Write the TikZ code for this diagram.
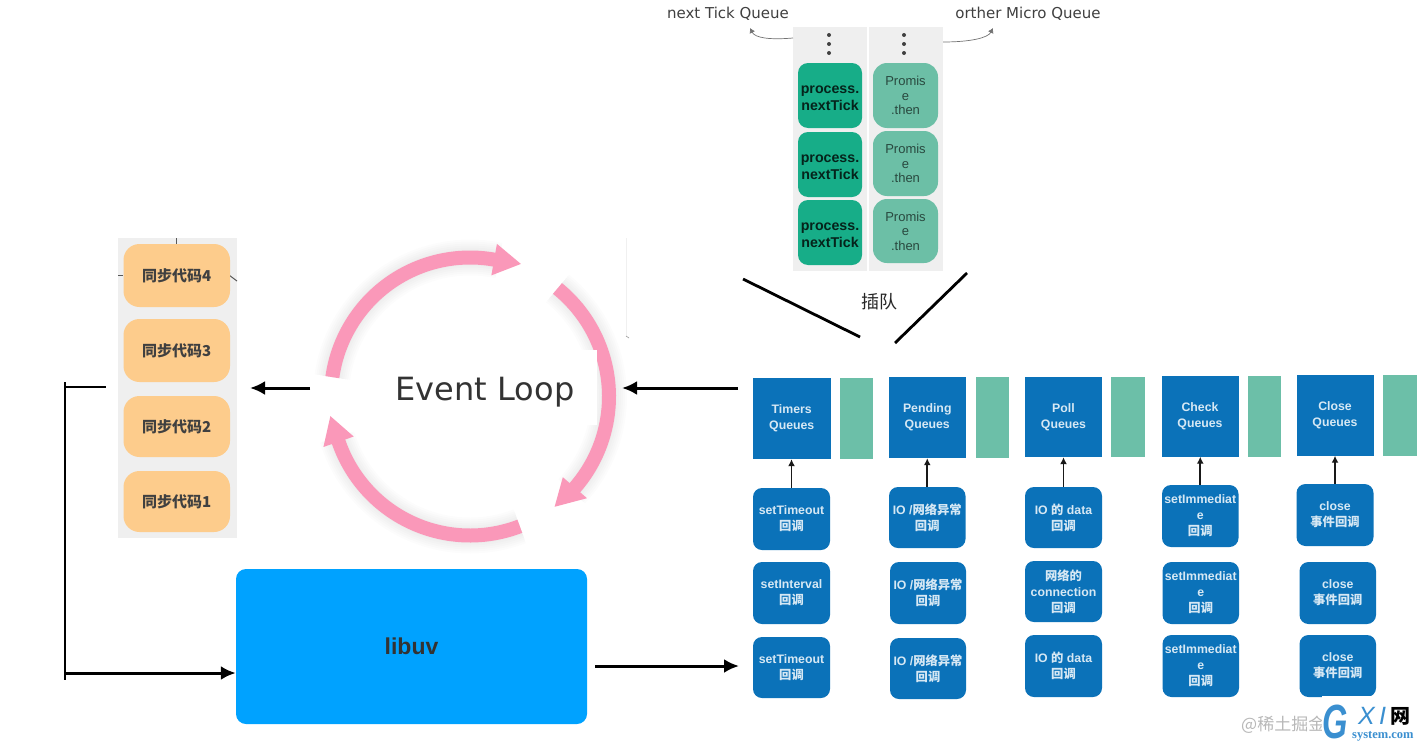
\documentclass[tikz,border=0pt]{standalone}
\usepackage{fontspec}
\setmainfont{Liberation Sans}
\newfontfamily\cjk{Noto Sans CJK SC}
\newfontfamily\lbl{DejaVu Sans}
\newfontfamily\srf{Liberation Serif}
\usetikzlibrary{arrows.meta}
\definecolor{qblue}{HTML}{0B72B9}
\definecolor{qgreen}{HTML}{6CBFA8}
\definecolor{tgreen}{HTML}{17AD88}
\definecolor{pgreen}{HTML}{6CBFA6}
\definecolor{syncor}{HTML}{FDCC8C}
\definecolor{panel}{HTML}{EFEFEF}
\definecolor{uvblue}{HTML}{00A2FF}
\definecolor{ringpink}{HTML}{FA98B9}
\definecolor{cbtext}{HTML}{D6E8F4}
\definecolor{logoblue}{HTML}{3A8FD0}
\tikzset{
  queuebox/.style={fill=qblue,inner sep=0pt,text=cbtext,align=center,font=\bfseries\fontsize{12.3}{16}\selectfont},
  sidebox/.style={fill=qgreen,inner sep=0pt},
  cbbox/.style={fill=qblue,rounded corners=9pt,inner sep=0pt,text=cbtext,align=center,font=\bfseries\fontsize{12.3}{16}\selectfont},
  tickbox/.style={fill=tgreen,rounded corners=10pt,inner sep=0pt,text=black!80!tgreen,align=center,font=\bfseries\fontsize{14.2}{17}\selectfont},
  promisebox/.style={fill=pgreen,rounded corners=14pt,inner sep=0pt,text=black!62!pgreen,align=center,font=\fontsize{13}{14.5}\selectfont},
  syncbox/.style={fill=syncor,rounded corners=16pt,inner sep=0pt,text=black!75,font=\cjk\bfseries\fontsize{15}{17}\selectfont},
  panelbox/.style={fill=panel,inner sep=0pt},
  uvbox/.style={fill=uvblue,rounded corners=10pt,inner sep=0pt,text=black!80,font=\bfseries\fontsize{23}{26}\selectfont},
  bigarrow/.style={line width=3pt,black,-{Latex[length=15pt,width=14pt]}},
  thinarrow/.style={line width=1.8pt,black!90,-{Latex[length=7pt,width=7pt]}},
  curvearrow/.style={line width=0.7pt,black!55,-{Latex[length=5pt,width=6pt]}},
  plainline/.style={line width=2.8pt,black},
  toplabel/.style={font=\lbl\fontsize{15}{18}\selectfont,text=black!75,inner sep=0pt},
  ringarc/.style={ringpink,line width=14pt},
  ringshadow/.style={black,opacity=0.012},
  dot/.style={circle,fill=black!75,inner sep=0pt,minimum size=4pt},
}
\newcommand{\bx}[7]{%
  \pgfmathsetmacro{\mybw}{#5-#3}\pgfmathsetmacro{\mybh}{#6-#4}%
  \pgfmathsetmacro{\mycx}{(#3+#5)/2}\pgfmathsetmacro{\mycy}{(#4+#6)/2}%
  \node[#2,minimum width=\mybw pt,minimum height=\mybh pt] (#1) at (\mycx,\mycy) {#7};}
\newcommand{\cb}{{\cjk 回调}}
\newcommand{\iox}{IO /{\cjk 网络异常}\\\cb}
\newcommand{\iod}{IO {\cjk 的} data\\\cb}
\newcommand{\imm}{setImmediat\\e\\\cb}
\newcommand{\cls}{close\\{\cjk 事件回调}}
\newcommand{\ptk}{\rule{0pt}{12.5pt}process.\\nextTick}
\newcommand{\prm}{Promis\\e\\.then}
\begin{document}
\begin{tikzpicture}[x=1pt,y=-1pt]
\useasboundingbox (0,0) rectangle (1420,744);
\fill[white] (0,0) rectangle (1420,744);

% micro queues
\bx{pa}{panelbox}{793}{27}{867}{271}{}
\bx{pb}{panelbox}{869}{27}{943}{271}{}
\foreach \n/\yy in {1/35,2/44,3/53}{
  \node[dot] (da\n) at (829,\yy) {};
  \node[dot] (db\n) at (904,\yy) {};
}
\bx{t1}{tickbox}{798}{63}{862}{128}{\ptk}
\bx{t2}{tickbox}{798}{132}{862}{197}{\ptk}
\bx{t3}{tickbox}{798}{200}{862}{265}{\ptk}
\bx{p1}{promisebox}{873}{63}{938}{128}{\prm}
\bx{p2}{promisebox}{873}{131}{938}{196}{\prm}
\bx{p3}{promisebox}{873}{199}{938}{263}{\prm}
\node[toplabel] (ln) at (728,14) {next Tick Queue};
\node[toplabel] (lo) at (1028,14) {orther Micro Queue};
\coordinate (ca) at (793,38);
\coordinate (cat) at (750,28);
\coordinate (cb) at (943,42);
\coordinate (cbt) at (993,28);
\draw[curvearrow] (ca) .. controls (770,40) and (755,38) .. (cat);
\draw[curvearrow] (cb) .. controls (970,42) and (988,38) .. (cbt);
% insert lines
\coordinate (i1) at (743,279);
\coordinate (i2) at (860,337);
\coordinate (i3) at (967,273);
\coordinate (i4) at (895,343);
\draw[plainline] (i1) -- (i2);
\draw[plainline] (i3) -- (i4);
\node[inner sep=0pt,font=\cjk\fontsize{18}{20}\selectfont,text=black!85] (cut) at (879,302) {插队};

% sync stack
\bx{sp}{panelbox}{118}{238}{237}{538}{}
\draw[black!65,line width=1pt] (176,238) -- (176,244);
\draw[black!65,line width=1pt] (118,275) -- (123,275);
\draw[black!65,line width=1pt] (229,275) -- (237,281);
\bx{s4}{syncbox}{123.5}{244}{230}{307}{同步代码4}
\bx{s3}{syncbox}{123.5}{319}{230}{382}{同步代码3}
\bx{s2}{syncbox}{123.5}{396}{230}{457}{同步代码2}
\bx{s1}{syncbox}{123.5}{471}{230}{532}{同步代码1}

% event loop ring
\begin{scope}[shift={(470,396.5)}]
  \foreach \w in {36,32,28,24,20,16}{
    \draw[ringshadow,line width=\w pt] (172:139pt) arc[start angle=172,end angle=78,radius=139pt];
    \draw[ringshadow,line width=\w pt] (51:139pt) arc[start angle=51,end angle=-43,radius=139pt];
    \draw[ringshadow,line width=\w pt] (-69:139pt) arc[start angle=-69,end angle=-163,radius=139pt];
  }
  \draw[ringarc] (172:139pt) arc[start angle=172,end angle=78,radius=139pt];
  \fill[ringpink] (80:123pt) -- (69:142pt) -- (80:155pt) -- cycle;
  \draw[ringarc] (51:139pt) arc[start angle=51,end angle=-43,radius=139pt];
  \fill[ringpink] (-41:155pt) -- (-52.5:139pt) -- (-41:123pt) -- cycle;
  \draw[ringarc] (-69:139pt) arc[start angle=-69,end angle=-163,radius=139pt];
  \fill[ringpink] (-161:123pt) -- (-172:141pt) -- (-161:155pt) -- cycle;
\end{scope}
\fill[white] (390,350) rectangle (597,425);
\draw[black!6,line width=1pt] (626,238) -- (626,336);
\draw[black!40,line width=0.6pt] (626,336) -- (629,338);
\node[inner sep=0pt,font=\lbl\fontsize{32}{36}\selectfont,text=black!80] (el) at (485,392) {Event Loop};

% libuv
\bx{uv}{uvbox}{236}{569}{587}{724}{libuv}

% queues
\bx{q1}{queuebox}{753}{378}{830.5}{459}{Timers\\Queues}
\bx{g1}{sidebox}{840}{378}{873}{459}{}
\bx{q2}{queuebox}{889}{377}{965.5}{458}{Pending\\Queues}
\bx{g2}{sidebox}{975.5}{377}{1008.5}{458}{}
\bx{q3}{queuebox}{1025}{377}{1102}{457}{Poll\\Queues}
\bx{g3}{sidebox}{1111}{377}{1144.5}{457}{}
\bx{q4}{queuebox}{1161.5}{375.5}{1238.5}{456.5}{Check\\Queues}
\bx{g4}{sidebox}{1247.5}{375.5}{1281}{456.5}{}
\bx{q5}{queuebox}{1296.5}{374.5}{1373.5}{455.5}{Close\\Queues}
\bx{g5}{sidebox}{1383}{374.5}{1416.5}{455.5}{}

% callbacks
\bx{a1}{cbbox}{753}{488}{830}{550}{setTimeout\\\cb}
\bx{a2}{cbbox}{753}{562}{830}{624}{setInterval\\\cb}
\bx{a3}{cbbox}{753}{637}{830}{698}{setTimeout\\\cb}
\bx{b1}{cbbox}{889}{487}{965.5}{548}{\iox}
\bx{b2}{cbbox}{890}{562}{966}{624}{\iox}
\bx{b3}{cbbox}{890}{638}{966}{699}{\iox}
\bx{c1}{cbbox}{1025}{487}{1102}{548}{\iod}
\bx{c2}{cbbox}{1025}{561}{1102}{622}{{\cjk 网络的}\\connection\\\cb}
\bx{c3}{cbbox}{1025}{635}{1102}{697}{\iod}
\bx{d1}{cbbox}{1162}{485}{1238.5}{547}{\imm}
\bx{d2}{cbbox}{1162.5}{562}{1239}{624}{\imm}
\bx{d3}{cbbox}{1162.5}{635}{1239}{697}{\imm}
\bx{e1}{cbbox}{1296.5}{484}{1373.5}{546}{\cls}
\bx{e2}{cbbox}{1299.5}{562}{1376}{624}{\cls}
\bx{e3}{cbbox}{1299.5}{635}{1376}{697}{\cls}
\draw[thinarrow] (a1.north) -- (a1.north |- q1.south);
\draw[thinarrow] (b1.north) -- (b1.north |- q2.south);
\draw[thinarrow] (c1.north) -- (c1.north |- q3.south);
\draw[thinarrow] (d1.north) -- (d1.north |- q4.south);
\draw[thinarrow] (e1.north) -- (e1.north |- q5.south);

% main arrows
\coordinate (m1) at (738,388);
\coordinate (m2) at (622,388);
\coordinate (m3) at (310,388);
\coordinate (m4) at (250,388);
\coordinate (m5) at (595,666);
\coordinate (m6) at (739,666);
\coordinate (b0) at (65,382);
\coordinate (b1x) at (65,680);
\coordinate (b2) at (65,387);
\coordinate (b3) at (106,387);
\coordinate (b4) at (65,673);
\draw[bigarrow] (m1) -- (m2);
\draw[bigarrow] (m3) -- (m4);
\draw[bigarrow] (m5) -- (m6);
\draw[plainline] (b0) -- (b1x);
\draw[plainline] (b2) -- (b3);
\draw[bigarrow] (b4) -- (b4 -| uv.west);

% watermark
\node[inner sep=0pt,anchor=west,text=black!28,font=\cjk\fontsize{17}{19}\selectfont] (wm) at (1241,725) {@稀土掘金};
\fill[white] (1322,696) rectangle (1420,744);
\node[inner sep=0pt,anchor=west,text=logoblue,font=\bfseries\itshape\fontsize{48}{48}\selectfont] (lg) at (1322,722) {\scalebox{0.68}[1]{G}};
\node[inner sep=0pt,anchor=west,text=logoblue,font=\itshape\fontsize{25}{25}\selectfont] (lx) at (1358,716) {X\,I};
\node[inner sep=0pt,anchor=west,text=black,font=\cjk\bfseries\fontsize{20}{20}\selectfont] (lw) at (1390,716) {网};
\node[inner sep=0pt,anchor=west,text=logoblue,font=\srf\bfseries\fontsize{12.5}{13}\selectfont] (ls) at (1352,736) {system.com};
\end{tikzpicture}
\end{document}
